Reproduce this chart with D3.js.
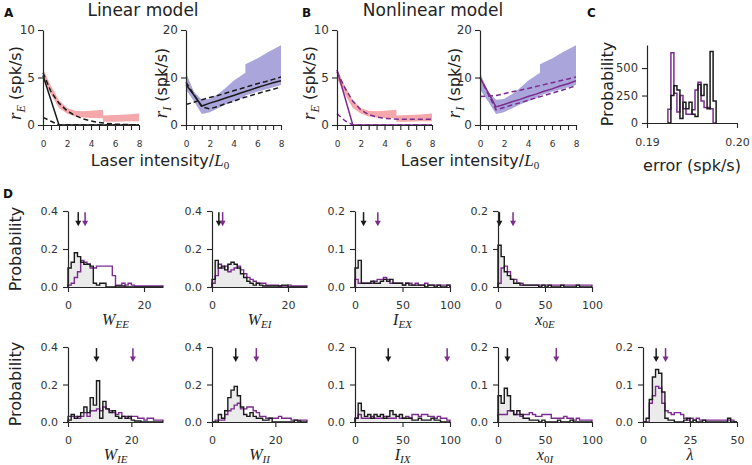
<!DOCTYPE html>
<html><head><meta charset="utf-8">
<script src="https://cdn.jsdelivr.net/npm/d3@7"></script>
<style>body{margin:0;background:#fff}</style>
</head><body><svg id="c" width="752" height="465"></svg>
<script>
// ---------- DATA ----------
const laserX = [0, 0.667, 1.333, 2, 2.667, 3.333, 4, 4.667, 5.333, 6, 6.667, 7.333, 8];
const laserTickLabels = [0, 2, 4, 6, 8];
const bandX = [0, 0.667, 1.333, 2, 2.667, 3.333, 4, 5, 5, 6, 7, 8];
const rEBandHi = [5.9, 4.1, 2.6, 1.8, 1.5, 1.45, 1.5, 1.6, 1.0, 1.05, 1.1, 1.2];
const rEBandLo = [4.9, 3.2, 1.8, 1.2, 0.9, 0.8, 0.75, 0.7, 0.35, 0.35, 0.4, 0.4];
const rIBandHi = [11.0, 7.0, 5.3, 5.5, 6.5, 7.8, 9.3, 11.0, 12.8, 14.0, 15.5, 16.8];
const rIBandLo = [7.5, 5.0, 2.3, 2.7, 3.5, 4.3, 5.0, 6.0, 6.2, 7.0, 7.7, 8.4];

const linRE_solid = [5.2, 2.6, 0, 0, 0, 0, 0, 0, 0, 0, 0, 0, 0];
const linRE_dashA = [5.5, 3.5, 2.3, 1.5, 1.0, 0.65, 0.42, 0.27, 0.17, 0.1, 0.06, 0.03, 0.02];
const linRE_dashB = [0.8, 0.4, 0, 0, 0, 0, 0, 0, 0, 0, 0, 0, 0];
const linRI_solid = [8.5, 6.3, 4.0, 4.6, 5.1, 5.7, 6.2, 6.8, 7.3, 7.9, 8.4, 8.9, 9.3];
const linRI_dashA = [4.3, 4.8, 5.3, 5.8, 6.2, 6.7, 7.2, 7.7, 8.2, 8.7, 9.1, 9.6, 10.1];
const linRI_dashB = [9.0, 6.4, 3.8, 3.4, 3.9, 4.5, 5.0, 5.6, 6.1, 6.6, 7.1, 7.5, 8.0];

const nlRE_solid = [5.8, 2.9, 0, 0, 0, 0, 0, 0, 0, 0, 0, 0, 0];
const nlRE_dashA = [5.6, 3.9, 2.5, 1.6, 1.1, 0.85, 0.7, 0.65, 0.6, 0.6, 0.6, 0.6, 0.6];
const nlRE_dashB = [1.2, 0.45, 0, 0, 0, 0, 0, 0, 0, 0, 0, 0, 0];
const nlRI_solid = [9.9, 6.9, 3.8, 4.3, 4.9, 5.4, 6.0, 6.5, 7.1, 7.6, 8.2, 8.7, 9.3];
const nlRI_dashA = [6.0, 6.1, 6.2, 6.6, 7.0, 7.3, 7.7, 8.1, 8.5, 8.9, 9.3, 9.7, 10.1];
const nlRI_dashB = [10.0, 6.6, 3.2, 3.7, 4.2, 4.7, 5.2, 5.7, 6.2, 6.7, 7.2, 7.7, 8.3];

const errTicks = [0.19, 0.20];
const errCountTicks = [0, 250, 500];
const errBinStart = 0.19232, errBinWidth = 0.000335;
const errLinear    = [0, 250, 340, 300, 40, 190, 130, 190, 80, 60, 350, 250, 350, 130, 650, 200];
const errNonlinear = [125, 640, 270, 100, 250, 130, 80, 80, 120, 300, 370, 200, 140, 140, 130, 0];

const paramNames = ["W_EE", "W_EI", "I_EX", "x_0E", "W_IE", "W_II", "I_IX", "x_0I", "lambda"];
const paramMaxX = [25, 25, 100, 100, 30, 30, 100, 100, 50];
const paramTicks = [[0, 20], [0, 20], [0, 50, 100], [0, 50, 100], [0, 20], [0, 20], [0, 50, 100], [0, 50, 100], [0, 25, 50]];
const probTicks = [[0, 0.2, 0.4], [0, 0.2, 0.4], [0, 0.1, 0.2], [0, 0.1, 0.2], [0, 0.2, 0.4], [0, 0.2, 0.4], [0, 0.1, 0.2], [0, 0.1, 0.2], [0, 0.1, 0.2]];
const arrowLinear = [2.7, 1.8, 9, 1.5, 9, 7.5, 35, 10, 7];
const arrowNonlinear = [4.5, 2.8, 24, 16, 20.5, 14, 97, 62, 12];

const histLinear = [
  [0.10,0.13,0.18,0.16,0.13,0.12,0.12,0.11,0.02,0.01,0.02,0.02,0,0,0,0.005,0.005,0.005,0,0,0,0,0,0,0,0,0,0,0,0],
  [0.04,0.14,0.10,0.11,0.09,0.12,0.13,0.12,0.10,0.07,0.05,0.03,0.02,0.01,0.02,0.01,0.005,0.005,0.005,0.005,0.005,0.005,0.01,0.01,0,0,0,0,0,0],
  [0.05,0.07,0.01,0.01,0.01,0.015,0.01,0.01,0.015,0.02,0.015,0.02,0.01,0.01,0.01,0.005,0.01,0.005,0.005,0.005,0.005,0.005,0,0.005,0.005,0,0.005,0,0,0.005],
  [0.11,0.08,0.04,0.03,0.02,0.01,0.01,0.005,0.005,0.005,0.005,0.005,0.005,0,0.005,0,0.005,0,0,0,0.005,0,0,0,0,0.005,0,0,0,0],
  [0.01,0.04,0.02,0.03,0.05,0.08,0.05,0.13,0.09,0.22,0.02,0.11,0.07,0.05,0.06,0.03,0.02,0.03,0.02,0.03,0.01,0.005,0.005,0,0,0,0,0,0,0],
  [0,0,0.04,0.02,0.06,0.13,0.17,0.19,0.14,0.08,0.04,0.03,0.05,0.03,0.02,0.02,0.01,0.01,0.02,0,0,0,0,0,0,0,0.01,0.005,0,0],
  [0.01,0.05,0.03,0.015,0.02,0.01,0.02,0.015,0.02,0.01,0.015,0.03,0.02,0.015,0.02,0.01,0.01,0.01,0.005,0.005,0.01,0.005,0.005,0.005,0.01,0.005,0.005,0,0,0],
  [0.07,0.05,0.09,0.07,0.03,0.02,0.03,0.02,0.01,0.01,0.005,0.005,0.005,0,0.005,0,0,0,0,0.005,0,0,0,0.005,0,0,0,0,0,0],
  [0,0.01,0.06,0.12,0.14,0.13,0.08,0.01,0.005,0.005,0,0,0,0.005,0.01,0,0.005,0,0,0.005,0,0,0,0,0,0,0,0.01,0,0]
];
const histNonlinear = [
  [0.01,0.02,0.05,0.08,0.14,0.13,0.12,0.10,0.10,0.11,0.11,0.11,0.11,0.11,0.06,0.01,0.01,0.02,0.01,0.02,0.01,0.005,0.005,0.005,0.005,0.005,0.005,0.005,0.005,0.005],
  [0.02,0.06,0.12,0.10,0.11,0.08,0.09,0.10,0.11,0.09,0.07,0.05,0.04,0.03,0.02,0.02,0.02,0.01,0.01,0.01,0.01,0.005,0.005,0.005,0.01,0.005,0.005,0.005,0.005,0.005],
  [0.02,0.01,0.01,0.01,0.01,0.01,0.015,0.02,0.02,0.025,0.02,0.01,0.01,0.01,0.01,0.005,0.01,0.01,0.005,0.01,0.005,0.005,0.01,0.005,0.005,0.005,0.005,0.005,0.005,0.005],
  [0.01,0.05,0.055,0.04,0.02,0.02,0.01,0.01,0.005,0.005,0.005,0.005,0.005,0.005,0.005,0.005,0.005,0.005,0.005,0.005,0.005,0.005,0.005,0.005,0.005,0.005,0.005,0.005,0.005,0.005],
  [0.03,0.03,0.03,0.02,0.03,0.05,0.03,0.06,0.06,0.07,0.06,0.08,0.07,0.06,0.05,0.04,0.05,0.03,0.03,0.02,0.03,0.03,0.02,0.02,0.01,0.02,0.02,0.01,0.01,0.01],
  [0,0.01,0.01,0.01,0.04,0.06,0.07,0.09,0.10,0.07,0.07,0.08,0.08,0.06,0.05,0.03,0.03,0.02,0.02,0.02,0.02,0.03,0.02,0.02,0.02,0.01,0.01,0.01,0.01,0.01],
  [0.01,0.02,0.01,0.01,0.01,0.015,0.01,0.01,0.01,0.015,0.01,0.01,0.01,0.015,0.01,0.01,0.015,0.01,0.02,0.02,0.015,0.02,0.02,0.015,0.015,0.01,0.015,0.01,0.01,0.005],
  [0.02,0.02,0.02,0.03,0.03,0.02,0.02,0.015,0.02,0.02,0.025,0.02,0.015,0.015,0.02,0.02,0.02,0.01,0.01,0.01,0.01,0.015,0.01,0.01,0.005,0.01,0.005,0.005,0.005,0.005],
  [0,0,0.05,0.07,0.095,0.09,0.05,0.03,0.025,0.02,0.025,0.025,0.02,0.01,0.005,0.01,0.005,0.01,0.005,0.005,0.005,0.005,0.005,0.005,0.005,0.005,0.005,0.005,0.005,0]
];

// ---------- STYLE ----------
const INK = "#262626", TXT = "#333", BLACK = "#1a1a1a", PURPLE = "#7b2d8e";
const PINK = "#f5a8ac", LAV = "#aaa6db";
const SANS = "DejaVu Sans", SERIF = "Liberation Serif";

const svg = d3.select("#c");
svg.append("rect").attr("width", 752).attr("height", 465).attr("fill", "#fff");

function styleAxis(sel, fs) {
  sel.attr("font-family", SANS).attr("font-size", fs);
  sel.select(".domain").attr("stroke", INK).attr("stroke-width", 1.2);
  sel.selectAll(".tick line").attr("stroke", INK).attr("stroke-width", 1.1);
  sel.selectAll(".tick text").attr("fill", TXT);
}

function txt(x, y, s, o = {}) {
  const t = svg.append("text").attr("x", x).attr("y", y).text(s)
    .attr("font-family", o.family || SANS).attr("font-size", o.size || 16)
    .attr("fill", o.fill || "#222").attr("text-anchor", o.anchor || "start");
  if (o.weight) t.attr("font-weight", o.weight);
  return t;
}

function mathText(x, y, pieces, o = {}) {
  const t = svg.append("text").attr("text-anchor", "middle").attr("fill", "#222");
  if (o.rotate) t.attr("transform", `translate(${x},${y}) rotate(-90)`);
  else t.attr("x", x).attr("y", y);
  let shift = 0;
  pieces.forEach(([s, k]) => {
    const sp = t.append("tspan").text(s);
    let target = 0;
    if (k === "mi") sp.attr("font-family", SERIF).attr("font-style", "italic").attr("font-size", o.main || 18);
    else if (k === "sub") { sp.attr("font-family", SERIF).attr("font-style", "italic").attr("font-size", o.sub || 12); target = o.dy || 4; }
    else if (k === "subr") { sp.attr("font-family", SERIF).attr("font-size", o.sub || 12); target = o.dy || 4; }
    else sp.attr("font-family", SANS).attr("font-size", o.sans || 16);
    if (target !== shift) { sp.attr("dy", target - shift); shift = target; }
  });
  return t;
}

// ---------- TITLES / LETTERS ----------
txt(4, 17, "A", { size: 12, weight: "bold", fill: "#111" });
txt(302, 17, "B", { size: 12, weight: "bold", fill: "#111" });
txt(587, 17, "C", { size: 12, weight: "bold", fill: "#111" });
txt(3, 198, "D", { size: 12, weight: "bold", fill: "#111" });
txt(143, 16, "Linear model", { size: 17, anchor: "middle" });
txt(433, 16, "Nonlinear model", { size: 17, anchor: "middle" });

// ---------- LINE PANELS ----------
function linePanel(cfg) {
  const x = d3.scaleLinear().domain([0, 8]).range([cfg.x0, cfg.x1]);
  const y = d3.scaleLinear().domain([0, cfg.ymax]).range([125, 30]);
  const g = svg.append("g");
  const area = d3.area().x((d, i) => x(bandX[i])).y0((d, i) => y(cfg.lo[i])).y1(d => y(d));
  g.append("path").datum(cfg.hi).attr("d", area).attr("fill", cfg.band);
  const line = d3.line().x((d, i) => x(laserX[i])).y(d => y(d));
  cfg.lines.forEach(([vals, dashed]) => {
    g.append("path").datum(vals).attr("d", line).attr("fill", "none")
      .attr("stroke", cfg.color).attr("stroke-width", 1.5)
      .attr("stroke-dasharray", dashed ? "5,3" : null);
  });
  const ya = g.append("g").attr("transform", `translate(${cfg.x0},0)`)
    .call(d3.axisLeft(y).tickValues(cfg.yticks).tickSize(5).tickSizeOuter(0).tickPadding(3));
  styleAxis(ya, 12);
  const xa = g.append("g").attr("transform", "translate(0,125)")
    .call(d3.axisBottom(x).tickValues(laserX).tickSize(5).tickSizeOuter(0).tickPadding(11)
      .tickFormat(d => laserTickLabels.some(v => Math.abs(v - d) < 1e-3) ? String(Math.round(d)) : ""));
  styleAxis(xa, 9);
  mathText(cfg.x0 - cfg.labOff, 83, [["r", "mi"], [cfg.sub, "sub"], [" (spk/s)", "sans"]], { rotate: true, main: 19, sub: 12, dy: 4 });
}

linePanel({ x0: 43, x1: 139, ymax: 10, yticks: [0, 5, 10], hi: rEBandHi, lo: rEBandLo, band: PINK, color: BLACK,
  lines: [[linRE_solid, false], [linRE_dashA, true], [linRE_dashB, true]], sub: "E", labOff: 22 });
linePanel({ x0: 186, x1: 281, ymax: 20, yticks: [0, 10, 20], hi: rIBandHi, lo: rIBandLo, band: LAV, color: BLACK,
  lines: [[linRI_solid, false], [linRI_dashA, true], [linRI_dashB, true]], sub: "I", labOff: 19 });
linePanel({ x0: 337, x1: 432, ymax: 10, yticks: [0, 5, 10], hi: rEBandHi, lo: rEBandLo, band: PINK, color: PURPLE,
  lines: [[nlRE_solid, false], [nlRE_dashA, true], [nlRE_dashB, true]], sub: "E", labOff: 22 });
linePanel({ x0: 480, x1: 576, ymax: 20, yticks: [0, 10, 20], hi: rIBandHi, lo: rIBandLo, band: LAV, color: PURPLE,
  lines: [[nlRI_solid, false], [nlRI_dashA, true], [nlRI_dashB, true]], sub: "I", labOff: 20 });

mathText(160, 166, [["Laser intensity/", "sans"], ["L", "mi"], ["0", "subr"]], { main: 17, sub: 11, dy: 3 });
mathText(470, 166, [["Laser intensity/", "sans"], ["L", "mi"], ["0", "subr"]], { main: 17, sub: 11, dy: 3 });

// ---------- PANEL C ----------
(function () {
  const x = d3.scaleLinear().domain([0.19, 0.20]).range([647, 737]);
  const y = d3.scaleLinear().domain([0, 710]).range([123, 45]);
  const g = svg.append("g");
  const step = vals => {
    const n = vals.length, e = i => errBinStart + errBinWidth * i;
    const pts = [[e(0), 0]];
    vals.forEach((v, i) => { pts.push([e(i), v]); pts.push([e(i + 1), v]); });
    pts.push([e(n), 0]);
    return pts;
  };
  const line = d3.line().x(d => x(d[0])).y(d => y(d[1]));
  g.append("path").datum(step(errNonlinear)).attr("d", line).attr("fill", "none").attr("stroke", PURPLE).attr("stroke-width", 1.5);
  g.append("path").datum(step(errLinear)).attr("d", line).attr("fill", "none").attr("stroke", BLACK).attr("stroke-width", 1.5);
  const ya = g.append("g").attr("transform", "translate(647,0)")
    .call(d3.axisLeft(y).tickValues(errCountTicks).tickSize(5).tickSizeOuter(0).tickPadding(4));
  styleAxis(ya, 11.5);
  const xa = g.append("g").attr("transform", "translate(0,123)")
    .call(d3.axisBottom(x).tickValues(errTicks).tickSize(5).tickSizeOuter(0).tickPadding(10).tickFormat(d3.format(".2f")));
  styleAxis(xa, 11);
  svg.append("text").attr("transform", "translate(613,84) rotate(-90)").attr("text-anchor", "middle")
    .attr("font-family", SANS).attr("font-size", 16).attr("fill", "#222").text("Probability");
  txt(692, 171, "error (spk/s)", { size: 16, anchor: "middle" });
})();

// ---------- PANEL D ----------
const dCols = [[68, 163], [212, 307], [355, 450], [498, 592], [643, 737]];
const dRows = [[287, 211], [422, 347]];
const dLabels = [
  [["W", "mi"], ["EE", "sub"]], [["W", "mi"], ["EI", "sub"]], [["I", "mi"], ["EX", "sub"]], [["x", "mi"], ["0", "subr"], ["E", "sub"]],
  [["W", "mi"], ["IE", "sub"]], [["W", "mi"], ["II", "sub"]], [["I", "mi"], ["IX", "sub"]], [["x", "mi"], ["0", "subr"], ["I", "sub"]],
  [["λ", "mi"]]
];
const dPos = [[0, 0], [0, 1], [0, 2], [0, 3], [1, 0], [1, 1], [1, 2], [1, 3], [1, 4]];

function arrow(g, xp, y1, y2, color) {
  g.append("line").attr("x1", xp).attr("x2", xp).attr("y1", y1).attr("y2", y2 - 4)
    .attr("stroke", color).attr("stroke-width", 1.5);
  g.append("path").attr("d", `M${xp - 3},${y2 - 5.5}L${xp + 3},${y2 - 5.5}L${xp},${y2}Z`).attr("fill", color);
}

paramNames.forEach((name, k) => {
  const [r, c] = dPos[k];
  const [yb, yt] = dRows[r];
  const [x0, x1] = dCols[c];
  const ticks = probTicks[k];
  const ymax = ticks[ticks.length - 1];
  const x = d3.scaleLinear().domain([0, paramMaxX[k]]).range([x0, x1]);
  const y = d3.scaleLinear().domain([0, ymax]).range([yb, yt]);
  const g = svg.append("g");
  const n = histLinear[k].length;
  const e = i => paramMaxX[k] * i / n;
  const step = vals => {
    const pts = [[e(0), 0]];
    vals.forEach((v, i) => { pts.push([e(i), v]); pts.push([e(i + 1), v]); });
    pts.push([e(n), 0]);
    return pts;
  };
  const line = d3.line().x(d => x(d[0])).y(d => y(Math.min(d[1], ymax)));
  g.append("path").datum(step(histLinear[k])).attr("d", line).attr("fill", "#000").attr("fill-opacity", 0.08).attr("stroke", "none");
  g.append("path").datum(step(histNonlinear[k])).attr("d", line).attr("fill", "none").attr("stroke", PURPLE).attr("stroke-width", 1.4);
  g.append("path").datum(step(histLinear[k])).attr("d", line).attr("fill", "none").attr("stroke", BLACK).attr("stroke-width", 1.4);
  arrow(g, x(arrowLinear[k]), y(ymax * 0.985), y(ymax * 0.80), BLACK);
  arrow(g, x(arrowNonlinear[k]), y(ymax * 0.985), y(ymax * 0.80), PURPLE);
  const ya = g.append("g").attr("transform", `translate(${x0},0)`)
    .call(d3.axisLeft(y).tickValues(ticks).tickSize(5).tickSizeOuter(0).tickPadding(5).tickFormat(d3.format(".1f")));
  styleAxis(ya, 11);
  const xa = g.append("g").attr("transform", `translate(0,${yb})`)
    .call(d3.axisBottom(x).tickValues(paramTicks[k]).tickSize(5).tickSizeOuter(0).tickPadding(9).tickFormat(d3.format("d")));
  styleAxis(xa, 11);
  mathText((x0 + x1) / 2, r === 0 ? 325 : 460, dLabels[k], { main: 16, sub: 11, dy: 3 });
});

svg.append("text").attr("transform", "translate(21,249) rotate(-90)").attr("text-anchor", "middle")
  .attr("font-family", SANS).attr("font-size", 16).attr("fill", "#222").text("Probability");
svg.append("text").attr("transform", "translate(21,384) rotate(-90)").attr("text-anchor", "middle")
  .attr("font-family", SANS).attr("font-size", 16).attr("fill", "#222").text("Probability");
</script></body></html>
